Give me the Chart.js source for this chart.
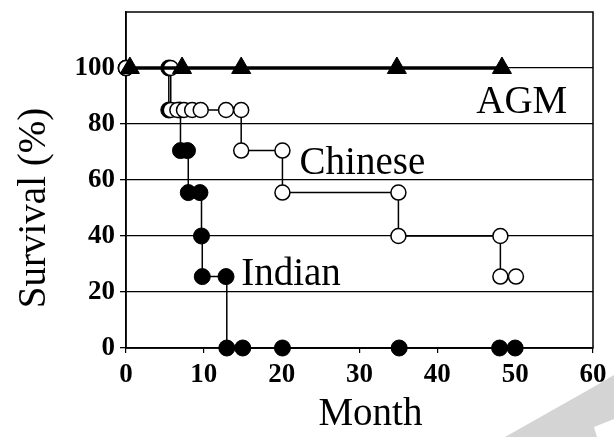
<!DOCTYPE html>
<html>
<head>
<meta charset="utf-8">
<script src="https://cdn.jsdelivr.net/npm/chart.js@4"></script>
<style>
  html, body { margin: 0; padding: 0; background: #fff; }
  #wrap { width: 614px; height: 437px; }
</style>
</head>
<body>
<div id="wrap"><canvas id="chart" width="614" height="437"></canvas></div>
<script>
// values (month, survival %)
const agmMonths = [0.5, 7.2, 14.8, 34.8, 48.3];
const agmSurvival = [100, 100, 100, 100, 100];

const chineseMonths = [0, 5.75, 5.75, 6.6, 7.45, 8.5, 9.6, 12.85, 14.8, 14.8, 20.1, 20.1, 35, 35, 48.1, 48.1, 50.1];
const chineseSurvival = [100, 100, 85, 85, 85, 85, 85, 85, 85, 70.5, 70.5, 55.5, 55.5, 40, 40, 25.5, 25.5];

const indianMonths = [0, 5.5, 5.5, 6.9, 7.0, 7.9, 8.0, 9.5, 9.7, 9.8, 12.85, 12.95, 15, 20.1, 35.1, 48, 50];
const indianSurvival = [100, 100, 85, 85, 70.5, 70.5, 55.5, 55.5, 40, 25.5, 25.5, 0, 0, 0, 0, 0, 0];

const seriesNames = ['AGM', 'Chinese', 'Indian'];
const xTicks = [0, 10, 20, 30, 40, 50, 60];
const yTicks = [0, 20, 40, 60, 80, 100];
const xTitle = 'Month';
const yTitle = 'Survival (%)';

const serif = '"Liberation Serif", "Times New Roman", serif';

function points(xs, ys) {
  return xs.map((x, i) => ({ x: x, y: ys[i] }));
}

// frame, page shading and the text labels drawn on the plot
const decorPlugin = {
  id: 'decor',
  beforeDraw(chart) {
    const ctx = chart.ctx;
    ctx.save();
    ctx.fillStyle = '#fff';
    ctx.fillRect(0, 0, chart.width, chart.height);
    ctx.fillStyle = '#d4d4d4';
    ctx.beginPath();
    [[597, 385], [614, 375], [614, 419], [594, 427], [597, 437], [505, 437]].forEach(([px, py], i) => {
      if (i) ctx.lineTo(px, py); else ctx.moveTo(px, py);
    });
    ctx.closePath();
    ctx.fill();
    ctx.restore();
  },
  beforeDatasetsDraw(chart) {
    const { ctx, chartArea: a } = chart;
    ctx.save();
    ctx.strokeStyle = '#000';
    ctx.lineWidth = 1.5;
    ctx.strokeRect(a.left, a.top, a.right - a.left, a.bottom - a.top);
    ctx.restore();
  },
  afterDraw(chart) {
    const { ctx } = chart;
    const x = chart.scales.x, y = chart.scales.y;
    ctx.save();
    ctx.fillStyle = '#000';
    ctx.font = '39px ' + serif;
    ctx.textBaseline = 'alphabetic';
    ctx.textAlign = 'left';
    ctx.fillText(seriesNames[0], x.getPixelForValue(45), y.getPixelForValue(84));
    ctx.fillText(seriesNames[1], x.getPixelForValue(22.3), y.getPixelForValue(62.3));
    ctx.fillText(seriesNames[2], x.getPixelForValue(14.8), y.getPixelForValue(22.4));

    ctx.textAlign = 'center';
    ctx.fillText(xTitle, x.getPixelForValue(31.4), chart.height - 12);

    ctx.translate(45, y.getPixelForValue(50));
    ctx.rotate(-Math.PI / 2);
    ctx.fillText(yTitle, 0, 0);
    ctx.restore();
  }
};

const tickFont = { family: serif, size: 27, weight: 'bold' };

new Chart(document.getElementById('chart'), {
  type: 'line',
  data: {
    datasets: [
      {
        label: seriesNames[0],
        data: points(agmMonths, agmSurvival),
        borderColor: '#000',
        borderWidth: 3.5,
        pointStyle: 'triangle',
        pointRadius: 11,
        pointBackgroundColor: '#000',
        pointBorderColor: '#000',
        pointBorderWidth: 1,
        clip: false
      },
      {
        label: seriesNames[1],
        data: points(chineseMonths, chineseSurvival),
        stepped: true,
        borderColor: '#000',
        borderWidth: 1.5,
        pointRadius: 7.5,
        pointBackgroundColor: '#fff',
        pointBorderColor: '#000',
        pointBorderWidth: 1.5,
        clip: false
      },
      {
        label: seriesNames[2],
        data: points(indianMonths, indianSurvival),
        stepped: true,
        borderColor: '#000',
        borderWidth: 1.5,
        pointRadius: 8,
        pointBackgroundColor: '#000',
        pointBorderColor: '#000',
        pointBorderWidth: 1,
        clip: false
      }
    ]
  },
  options: {
    responsive: false,
    animation: false,
    layout: { padding: { top: 10, right: 21, left: 0, bottom: 0 } },
    plugins: { legend: { display: false }, tooltip: { enabled: false } },
    scales: {
      x: {
        type: 'linear',
        min: 0,
        max: 60,
        afterBuildTicks: s => { s.ticks = xTicks.map(v => ({ value: v })); },
        afterFit: s => { s.height = 89; },
        ticks: { font: tickFont, color: '#000', padding: 6, maxRotation: 0, autoSkip: false },
        grid: { drawOnChartArea: false, tickLength: 5, color: '#000', lineWidth: 1.2 },
        border: { color: '#000', width: 1.5 }
      },
      y: {
        min: 0,
        max: 120,
        afterBuildTicks: s => { s.ticks = yTicks.map(v => ({ value: v })); },
        afterFit: s => { s.width = 126; s.paddingTop = 0; },
        ticks: { font: tickFont, color: '#000', padding: 5 },
        grid: { color: '#000', lineWidth: 1.3, tickLength: 6 },
        border: { color: '#000', width: 1.5 }
      }
    }
  },
  plugins: [decorPlugin]
});
</script>
</body>
</html>
